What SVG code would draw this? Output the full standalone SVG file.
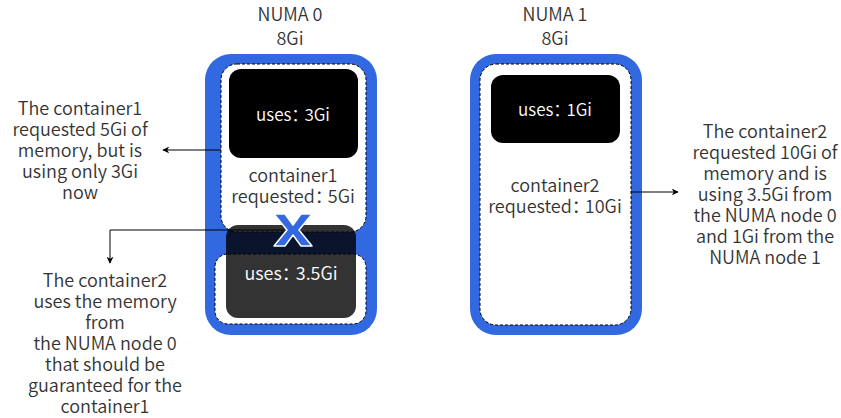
<svg xmlns="http://www.w3.org/2000/svg" width="841" height="418" viewBox="0 0 841 418">
<defs>
<style>
.t{font-family:"Noto Sans CJK SC","Noto Sans",sans-serif;font-size:18px;font-weight:350;fill:#333;text-anchor:middle}
.w{font-family:"Noto Sans CJK SC","Noto Sans",sans-serif;font-size:17px;font-weight:350;fill:#fff;text-anchor:middle}
.blue{fill:#3369e0}
.dash{fill:#fff;stroke:#000;stroke-width:1;stroke-dasharray:3 2}
.ln{fill:none;stroke:#000;stroke-width:1}
</style>
<marker id="ah" viewBox="0 0 10 10" refX="9" refY="5" markerWidth="7" markerHeight="7" markerUnits="userSpaceOnUse" orient="auto">
<path d="M0,0 L10,5 L0,10 L3,5 Z" fill="#000"/>
</marker>
</defs>
<rect width="841" height="418" fill="#fff"/>
<g id="numa0">
<text class="t" x="290" y="21">NUMA 0</text>
<text class="t" x="290" y="45">8Gi</text>
<rect class="blue" x="205" y="54" width="172" height="281" rx="26"/>
<rect class="dash" x="221" y="64" width="145" height="168" rx="16"/>
<rect class="dash" x="215" y="254" width="151" height="70" rx="13"/>
</g>
<g id="numa1">
<text class="t" x="555" y="21">NUMA 1</text>
<text class="t" x="555" y="45">8Gi</text>
<rect class="blue" x="470" y="54" width="172" height="281" rx="26"/>
<rect class="dash" x="480" y="64" width="151" height="261" rx="16"/>
</g>
<g id="connectors">
<line class="ln" x1="221" y1="150" x2="163" y2="150" marker-end="url(#ah)"/>
<polyline class="ln" points="284,230 110,230 110,263" marker-end="url(#ah)"/>
<line class="ln" x1="631" y1="192" x2="678" y2="192" marker-end="url(#ah)"/>
</g>
<g id="container1-uses">
<rect x="229" y="69" width="129" height="89" rx="12" fill="#000"/>
<text class="w" x="293" y="121">uses：<tspan dx="-4">3Gi</tspan></text>
</g>
<g id="container1-label">
<text class="t" x="293" y="182">container1</text>
<text class="t" x="293" y="203">requested：<tspan dx="-5">5Gi</tspan></text>
</g>
<g id="container2-uses-numa0">
<rect x="226" y="225" width="130" height="93" rx="12" fill="#000" fill-opacity="0.8"/>
<text class="w" x="291" y="280" style="font-size:18px">uses：<tspan dx="-4">3.5Gi</tspan></text>
</g>
<g id="cross">
<polygon transform="translate(293,230)" points="-19,-16 -8,-16 0,-5 8,-16 19,-16 6,0 19,16 8,16 0,5 -8,16 -19,16 -6,0" fill="#3369e0" stroke="#fff" stroke-width="1.5" stroke-linejoin="round"/>
</g>
<g id="container2-uses-numa1">
<rect x="491" y="75" width="129" height="68" rx="12" fill="#000"/>
<text class="w" x="555" y="116">uses：<tspan dx="-4">1Gi</tspan></text>
</g>
<g id="container2-label">
<text class="t" x="555" y="192">container2</text>
<text class="t" x="555" y="213">requested：<tspan dx="-5">10Gi</tspan></text>
</g>
<g id="note1">
<text class="t" x="80" y="115">The container1</text>
<text class="t" x="80" y="136">requested 5Gi of</text>
<text class="t" x="80" y="157">memory, but is</text>
<text class="t" x="80" y="178">using only 3Gi</text>
<text class="t" x="80" y="199">now</text>
</g>
<g id="note2">
<text class="t" x="105" y="287">The container2</text>
<text class="t" x="105" y="308">uses the memory</text>
<text class="t" x="105" y="329">from</text>
<text class="t" x="105" y="350">the NUMA node 0</text>
<text class="t" x="105" y="371">that should be</text>
<text class="t" x="105" y="392">guaranteed for the</text>
<text class="t" x="105" y="413">container1</text>
</g>
<g id="note3">
<text class="t" x="765" y="138">The container2</text>
<text class="t" x="765" y="159">requested 10Gi of</text>
<text class="t" x="765" y="180">memory and is</text>
<text class="t" x="765" y="201">using 3.5Gi from</text>
<text class="t" x="765" y="222">the NUMA node 0</text>
<text class="t" x="765" y="243">and 1Gi from the</text>
<text class="t" x="765" y="264">NUMA node 1</text>
</g>
</svg>
